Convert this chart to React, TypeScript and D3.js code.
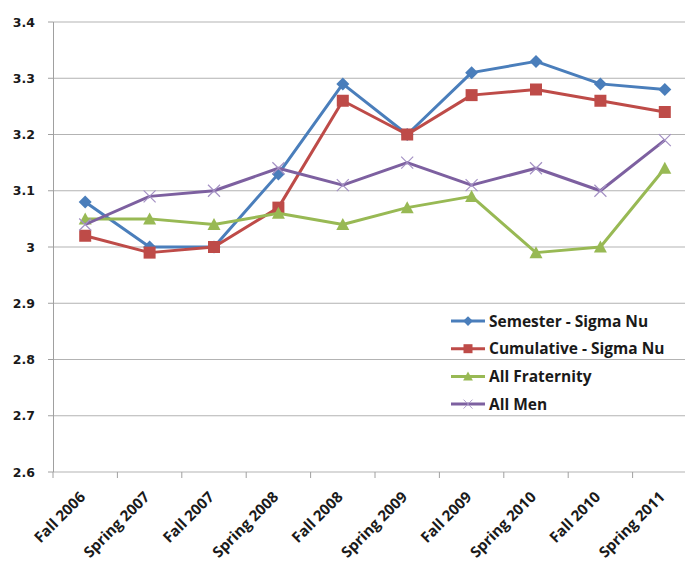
import React, { useEffect, useRef } from 'react';
import * as d3 from 'd3';

const terms = ['Fall 2006', 'Spring 2007', 'Fall 2007', 'Spring 2008', 'Fall 2008',
  'Spring 2009', 'Fall 2009', 'Spring 2010', 'Fall 2010', 'Spring 2011'];

const semesterSigmaNu = [3.08, 3.00, 3.00, 3.13, 3.29, 3.20, 3.31, 3.33, 3.29, 3.28];
const cumulativeSigmaNu = [3.02, 2.99, 3.00, 3.07, 3.26, 3.20, 3.27, 3.28, 3.26, 3.24];
const allFraternity = [3.05, 3.05, 3.04, 3.06, 3.04, 3.07, 3.09, 2.99, 3.00, 3.14];
const allMen = [3.04, 3.09, 3.10, 3.14, 3.11, 3.15, 3.11, 3.14, 3.10, 3.19];

const yTicks = [2.6, 2.7, 2.8, 2.9, 3, 3.1, 3.2, 3.3, 3.4];

const seriesList = [
  { name: 'Semester - Sigma Nu', values: semesterSigmaNu, color: '#4a7ebb', marker: 'diamond' },
  { name: 'Cumulative - Sigma Nu', values: cumulativeSigmaNu, color: '#be4b48', marker: 'square' },
  { name: 'All Fraternity', values: allFraternity, color: '#98b954', marker: 'triangle' },
  { name: 'All Men', values: allMen, color: '#7d60a0', marker: 'cross' },
];

const FONT = '"Open Sans", sans-serif';
const YFONT = '"DejaVu Sans", Verdana, sans-serif';

function drawMarker(g, type, color) {
  if (type === 'diamond') {
    g.append('path').attr('d', 'M0,-6.5L6.5,0L0,6.5L-6.5,0Z').attr('fill', color);
  } else if (type === 'square') {
    g.append('rect').attr('x', -6).attr('y', -6).attr('width', 12).attr('height', 12).attr('fill', color);
  } else if (type === 'triangle') {
    g.append('path').attr('d', 'M0,-6.5L6.5,5.5L-6.5,5.5Z').attr('fill', color);
  } else {
    g.append('path').attr('d', 'M-6,-6L6,6M-6,6L6,-6')
      .attr('stroke', '#a491c4').attr('stroke-width', 1.2).attr('fill', 'none');
  }
}

export default function App() {
  const ref = useRef(null);

  useEffect(() => {
    const w = 685;
    const svg = d3.select(ref.current);
    svg.selectAll('*').remove();

    const x = d3.scaleBand().domain(terms).range([53, 697]);
    const y = d3.scaleLinear().domain([2.6, 3.4]).range([472, 22]);

    // gridlines
    svg.append('g').selectAll('line')
      .data(yTicks)
      .enter().append('line')
      .attr('x1', 53).attr('x2', w)
      .attr('y1', d => y(d)).attr('y2', d => y(d))
      .attr('stroke', '#b3b3b3').attr('stroke-width', 1);

    // y axis
    svg.append('line').attr('x1', 53.5).attr('x2', 53.5).attr('y1', 22).attr('y2', 472)
      .attr('stroke', '#a0a0a0');
    svg.append('g').selectAll('line')
      .data(yTicks)
      .enter().append('line')
      .attr('x1', 48).attr('x2', 53)
      .attr('y1', d => y(d)).attr('y2', d => y(d))
      .attr('stroke', '#a0a0a0');
    svg.append('g').selectAll('text')
      .data(yTicks)
      .enter().append('text')
      .attr('x', 35).attr('y', d => y(d))
      .attr('dy', '0.36em')
      .attr('text-anchor', 'end')
      .style('font-family', YFONT).style('font-weight', 'bold').style('font-size', '12.5px')
      .attr('fill', '#1a1a1a')
      .text(d => d3.format('')(d));

    // x axis ticks
    const bounds = terms.map(t => x(t)).concat([x(terms[terms.length - 1]) + x.bandwidth()]);
    svg.append('g').selectAll('line')
      .data(bounds)
      .enter().append('line')
      .attr('x1', d => d).attr('x2', d => d)
      .attr('y1', 472).attr('y2', 478)
      .attr('stroke', '#a0a0a0');
    svg.append('g').selectAll('text')
      .data(terms)
      .enter().append('text')
      .attr('transform', d => 'translate(' + (x(d) + x.bandwidth() / 2 + 1) + ',498) rotate(-45)')
      .attr('text-anchor', 'end')
      .style('font-family', FONT).style('font-weight', 'bold').style('font-size', '15px')
      .attr('fill', '#1a1a1a')
      .text(d => d);

    const line = d3.line()
      .x((d, i) => x(terms[i]) + x.bandwidth() / 2)
      .y(d => y(d));

    seriesList.forEach(s => {
      const g = svg.append('g');
      g.append('path')
        .datum(s.values)
        .attr('d', line)
        .attr('fill', 'none')
        .attr('stroke', s.color)
        .attr('stroke-width', 3)
        .attr('stroke-linejoin', 'round');
      s.values.forEach((v, i) => {
        const m = g.append('g')
          .attr('transform', 'translate(' + (x(terms[i]) + x.bandwidth() / 2) + ',' + y(v) + ')');
        drawMarker(m, s.marker, s.color);
      });
    });

    // legend
    const legend = svg.append('g');
    seriesList.forEach((s, i) => {
      const ly = 321 + i * 27.7;
      legend.append('line')
        .attr('x1', 451).attr('x2', 485).attr('y1', ly).attr('y2', ly)
        .attr('stroke', s.color).attr('stroke-width', 3);
      const m = legend.append('g').attr('transform', 'translate(468,' + ly + ') scale(0.75)');
      drawMarker(m, s.marker, s.color);
      legend.append('text')
        .attr('x', 489).attr('y', ly).attr('dy', '0.36em')
        .style('font-family', FONT).style('font-weight', 'bold').style('font-size', '15.5px')
        .attr('fill', '#1a1a1a')
        .text(s.name);
    });
  }, []);

  return (
    <svg ref={ref} width={685} height={561}
      style={{ position: 'absolute', left: 0, top: 0, background: '#ffffff', overflow: 'hidden' }} />
  );
}
